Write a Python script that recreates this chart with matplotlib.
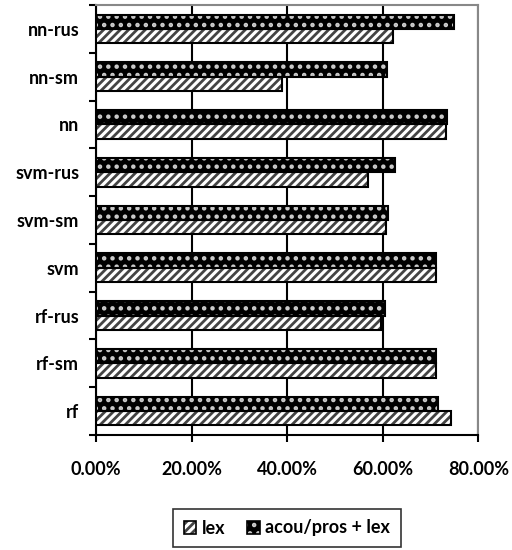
import matplotlib.pyplot as plt
import matplotlib.ticker as mticker
import matplotlib.patches as mpatches
import numpy as np

plt.rcParams['font.family'] = ['Lato', 'DejaVu Sans']
plt.rcParams['font.weight'] = 'bold'
plt.rcParams['hatch.linewidth'] = 2.0

categories = ['rf', 'rf-sm', 'rf-rus', 'svm', 'svm-sm', 'svm-rus', 'nn', 'nn-sm', 'nn-rus']
lex = [74.2, 71.1, 59.7, 71.1, 60.6, 56.8, 73.2, 39.0, 62.2]
acou_lex = [71.5, 71.1, 60.4, 71.1, 61.1, 62.5, 73.4, 60.9, 74.8]

fig = plt.figure(figsize=(5.12, 5.5), dpi=100)
ax = fig.add_axes([0.1875, 0.209, 0.747, 0.782])

y = np.arange(len(categories))
h = 0.3
fs = 13

# lex: white with diagonal hatch
ax.barh(y - h / 2, lex, height=h, color='white', edgecolor='#444444',
        hatch='////', linewidth=0, zorder=3)
ax.barh(y - h / 2, lex, height=h, fill=False, edgecolor='black', linewidth=1.5, zorder=4)

# acou/pros + lex: black with light dash pattern
ax.barh(y + h / 2, acou_lex, height=h, color='black', edgecolor='#cccccc',
        hatch='..', linewidth=0, zorder=3)
ax.barh(y + h / 2, acou_lex, height=h, fill=False, edgecolor='black', linewidth=1.5, zorder=4)

ax.set_xlim(0, 80)
ax.set_ylim(-0.5, len(categories) - 0.5)
ax.xaxis.set_major_locator(mticker.MultipleLocator(20))
ax.xaxis.set_major_formatter(mticker.FuncFormatter(lambda v, p: f'{v:.2f}%'))
ax.set_yticks(y)
ax.set_yticklabels(categories)
ax.set_yticks(np.arange(-0.5, len(categories), 1), minor=True)
ax.tick_params(axis='y', which='major', length=0, pad=12, labelsize=fs)
ax.tick_params(axis='y', which='minor', length=5, width=1.5, direction='out')
ax.tick_params(axis='x', length=5, width=1.5, direction='out', pad=14, labelsize=fs)
ax.grid(axis='x', color='black', linewidth=1.5, zorder=0)

for s in ['top', 'right']:
    ax.spines[s].set_color('#888888')
    ax.spines[s].set_linewidth(1.5)
for s in ['left', 'bottom']:
    ax.spines[s].set_color('black')
    ax.spines[s].set_linewidth(1.5)

lex_h = (mpatches.Patch(facecolor='white', edgecolor='#444444', hatch='////', linewidth=0),
         mpatches.Patch(fill=False, edgecolor='black', linewidth=1.2))
acou_h = (mpatches.Patch(facecolor='black', edgecolor='#cccccc', hatch='..', linewidth=0),
          mpatches.Patch(fill=False, edgecolor='black', linewidth=1.2))
leg = fig.legend([lex_h, acou_h], ['lex', 'acou/pros + lex'], loc='center',
                 bbox_to_anchor=(0.56, 0.04), ncol=2, frameon=True, fancybox=False,
                 handlelength=0.7, handleheight=0.7, handletextpad=0.3, columnspacing=1.2,
                 prop={'size': fs, 'weight': 'bold'}, borderpad=0.6)
leg.get_frame().set_edgecolor('black')
leg.get_frame().set_linewidth(1.2)

fig.savefig('out.png', dpi=100)
